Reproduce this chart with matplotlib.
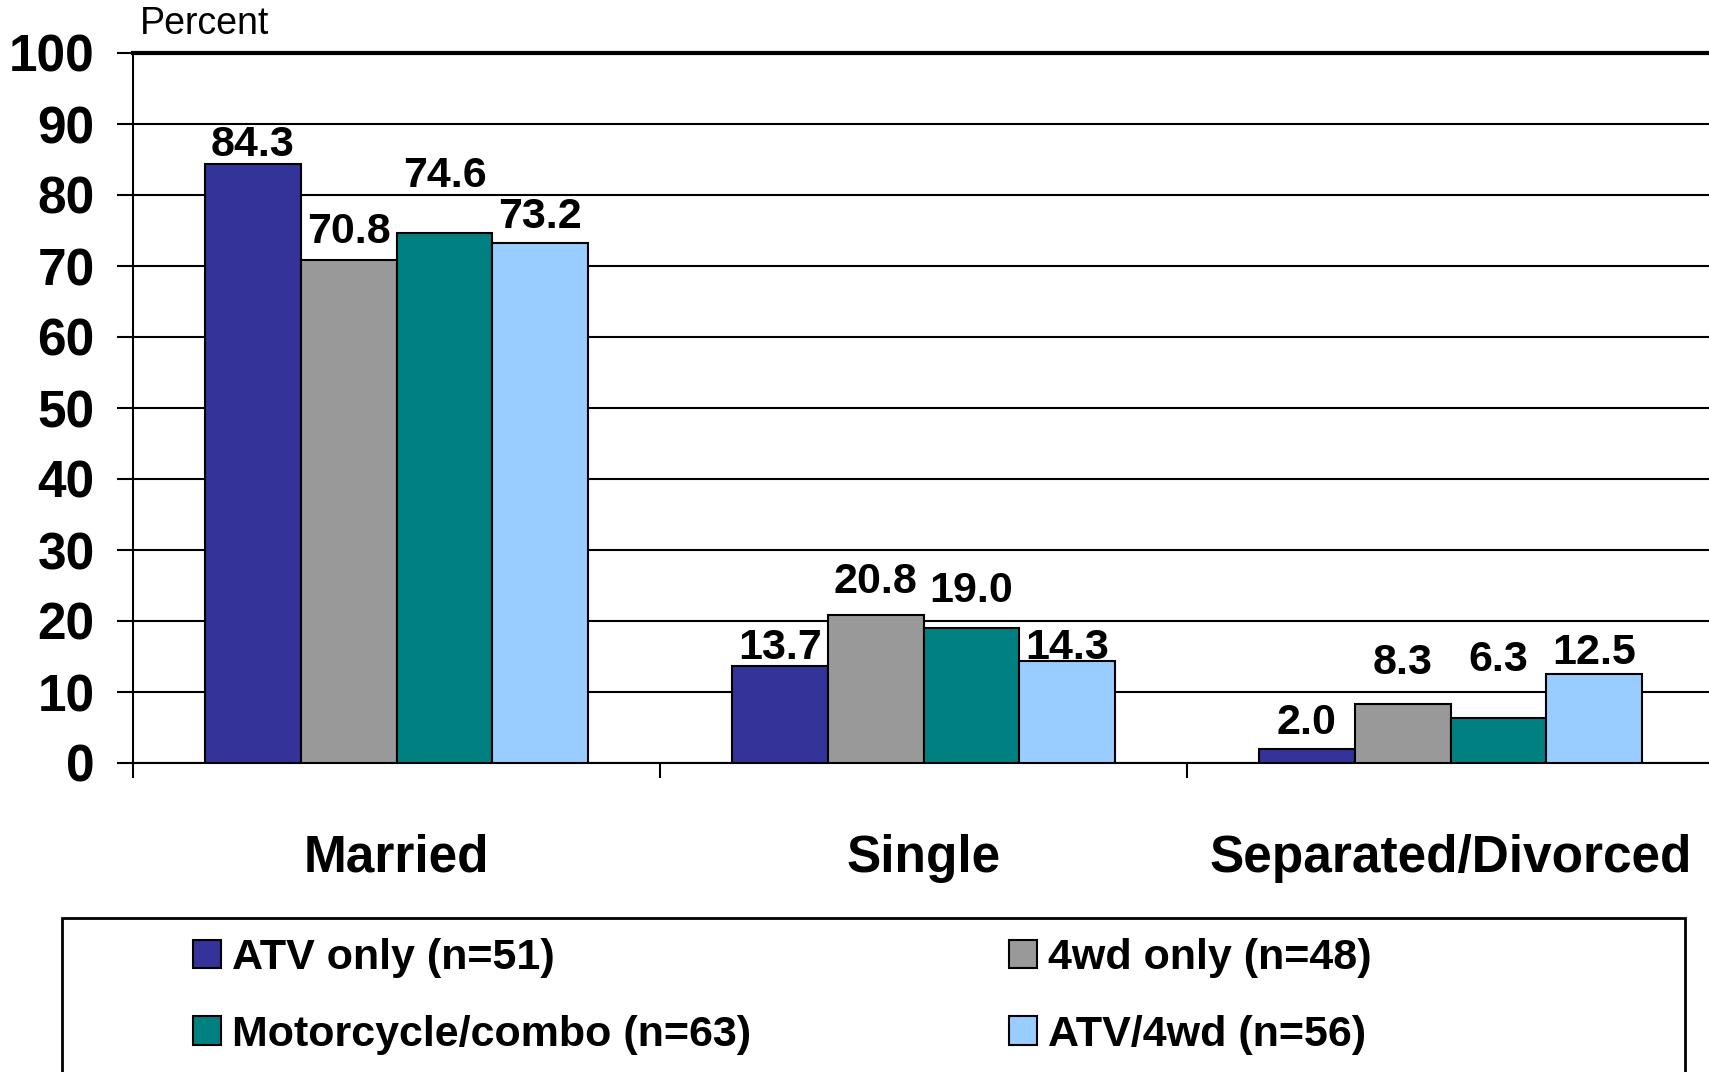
import numpy as np
import matplotlib
matplotlib.use("Agg")
import matplotlib.pyplot as plt
from matplotlib.patches import Rectangle

plt.rcParams['font.family'] = ['Liberation Sans', 'DejaVu Sans']

# --- data ---
categories = ['Married', 'Single', 'Separated/Divorced']
series = ['ATV only (n=51)', '4wd only (n=48)', 'Motorcycle/combo (n=63)', 'ATV/4wd (n=56)']
atv_only = [84.3, 13.7, 2.0]
wd_only = [70.8, 20.8, 8.3]
moto_combo = [74.6, 19.0, 6.3]
atv_4wd = [73.2, 14.3, 12.5]
colors = ['#333399', '#999999', '#008080', '#99CCFF']

# label lift above bar top (pixels), as the original layout nudged them
label_lift = [[19, 18, 26], [28, 33, 41], [57, 37, 58], [26, 13, 21]]

values = [atv_only, wd_only, moto_combo, atv_4wd]

fig = plt.figure(figsize=(17.09, 10.72), dpi=100)
ax = fig.add_axes([133 / 1709, 1 - 763 / 1072, 1581 / 1709, 710 / 1072])

x = np.arange(len(categories))
width = 0.182
for i, (vals, col) in enumerate(zip(values, colors)):
    pos = x + (i - 1.5) * width
    ax.bar(pos, vals, width, color=col, edgecolor='black', linewidth=1.5,
           label=series[i], zorder=3)
    for px, v, lift in zip(pos, vals, label_lift[i]):
        ax.annotate(f"{v:.1f}", xy=(px, v), xytext=(0, lift),
                    textcoords='offset pixels', ha='center', va='center',
                    fontsize=31, fontweight='bold', zorder=4)

ax.set_xlim(-0.5, 2.5)
ax.set_ylim(0, 100)
ax.set_yticks(np.arange(0, 101, 10))
ax.set_yticklabels([str(t) for t in range(0, 101, 10)], fontsize=37, fontweight='bold')
ax.tick_params(axis='y', length=11.5, width=1.5, pad=16)
ax.yaxis.grid(True, color='black', linewidth=1.5, zorder=0)

ax.set_xticks([-0.5, 0.5, 1.5])
ax.set_xticklabels([])
ax.tick_params(axis='x', which='major', length=11, width=1.5, direction='out')
ax.set_xticks(x, minor=True)
ax.set_xticklabels(categories, minor=True, fontsize=37, fontweight='bold')
ax.tick_params(axis='x', which='minor', length=0, pad=51)

ax.spines['right'].set_visible(False)
ax.spines['top'].set_linewidth(3)
ax.spines['left'].set_linewidth(1.5)
ax.spines['bottom'].set_linewidth(1.5)

fig.text(140 / 1709, 1 - 24 / 1072, 'Percent', fontsize=27, va='center', ha='left')

# legend frame runs past the bottom edge
fig.patches.append(Rectangle((62 / 1709, -0.05), (1685 - 62) / 1709, 0.05 + (1072 - 918) / 1072,
                             transform=fig.transFigure, fill=False, edgecolor='black',
                             linewidth=2, clip_on=False))
handles, labels = ax.get_legend_handles_labels()
order = [0, 2, 1, 3]
fig.legend([handles[k] for k in order], [labels[k] for k in order], ncol=2,
           loc='upper left', bbox_to_anchor=(193 / 1709, 1 - 938 / 1072),
           frameon=False, prop={'size': 31, 'weight': 'bold'},
           handlelength=0.65, handleheight=0.65, handletextpad=0.25,
           columnspacing=6.0, labelspacing=0.85, borderpad=0, borderaxespad=0)

fig.savefig('out.png', dpi=100)
